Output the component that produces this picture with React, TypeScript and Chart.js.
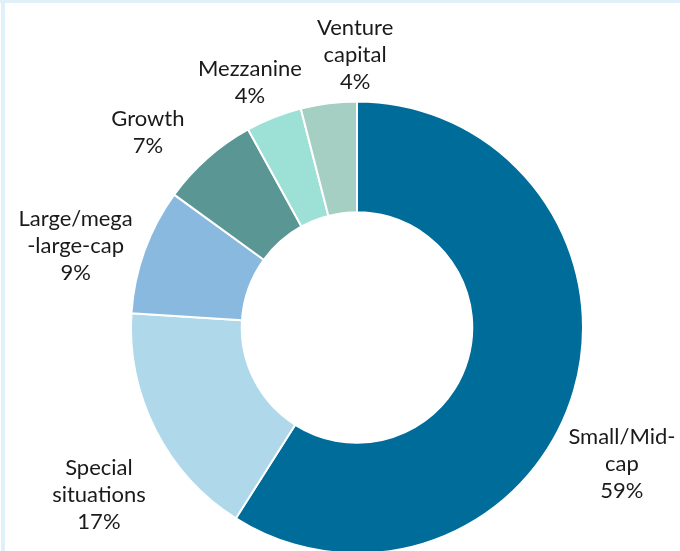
import React, { useEffect, useRef } from "react";
import { Chart, registerables } from "chart.js";

Chart.register(...registerables);

const categories: string[] = [
  "Small/Mid-\ncap",
  "Special\nsituations",
  "Large/mega\n-large-cap",
  "Growth",
  "Mezzanine",
  "Venture\ncapital",
];
const shares: number[] = [59, 17, 9, 7, 4, 4];
const sliceColors: string[] = ["#006c9a", "#afd8ea", "#8ab9e0", "#5a9694", "#9de0d6", "#a6cfc4"];

// label placement relative to each slice: angle nudge (deg, clockwise) and radius factor
const labelNudgeDeg: number[] = [11.0, -5.9, -3.7, -5.6, -2.0, 6.8];
const labelRadiusFactor: number[] = [1.318, 1.36, 1.296, 1.265, 1.183, 1.204];

const labelPlugin = {
  id: "outsideLabels",
  afterDatasetsDraw(chart: any) {
    const ctx = chart.ctx;
    const meta = chart.getDatasetMeta(0);
    const font = "22px Lato";
    const lineH = 27;
    ctx.save();
    ctx.font = font;
    ctx.fillStyle = "#1a1a1a";
    ctx.textAlign = "center";
    ctx.textBaseline = "middle";
    meta.data.forEach((arc: any, i: number) => {
      const p = arc.getProps(["x", "y", "startAngle", "endAngle", "outerRadius"], true);
      const mid = (p.startAngle + p.endAngle) / 2 + (labelNudgeDeg[i] * Math.PI) / 180;
      const r = p.outerRadius * labelRadiusFactor[i];
      const cx = p.x + Math.cos(mid) * r;
      const cy = p.y + Math.sin(mid) * r;
      const lines = categories[i].split("\n").concat([`${shares[i]}%`]);
      const top = cy - ((lines.length - 1) * lineH) / 2;
      lines.forEach((ln, k) => {
        ctx.fillText(ln, cx, top + k * lineH);
      });
    });
    ctx.restore();
  },
};

export default function App() {
  const ref = useRef<HTMLCanvasElement | null>(null);
  useEffect(() => {
    if (!ref.current) return;
    const chart = new Chart(ref.current, {
      type: "doughnut",
      data: {
        labels: categories,
        datasets: [
          {
            data: shares,
            backgroundColor: sliceColors,
            borderColor: "#ffffff",
            borderWidth: 2,
            hoverOffset: 0,
          },
        ],
      },
      options: {
        animation: false,
        responsive: false,
        cutout: "51%",
        layout: { padding: { top: 100, left: 130, right: 96, bottom: 0 } },
        plugins: {
          legend: { display: false },
          tooltip: { enabled: false },
        },
      },
      plugins: [labelPlugin],
    });
    return () => chart.destroy();
  }, []);
  return (
    <div
      style={{
        position: "absolute",
        left: 0,
        top: 0,
        width: 680,
        height: 551,
        overflow: "hidden",
        background: "#ffffff",
      }}
    >
      <canvas ref={ref} width={680} height={555} style={{ position: "absolute", left: 0, top: 0, width: 680, height: 555 }} />
      <div style={{ position: "absolute", left: 0, top: 0, width: 680, height: 3, background: "#dff0f9" }} />
      <div style={{ position: "absolute", left: 1, top: 0, width: 4, height: 551, background: "#dff0f9" }} />
    </div>
  );
}
